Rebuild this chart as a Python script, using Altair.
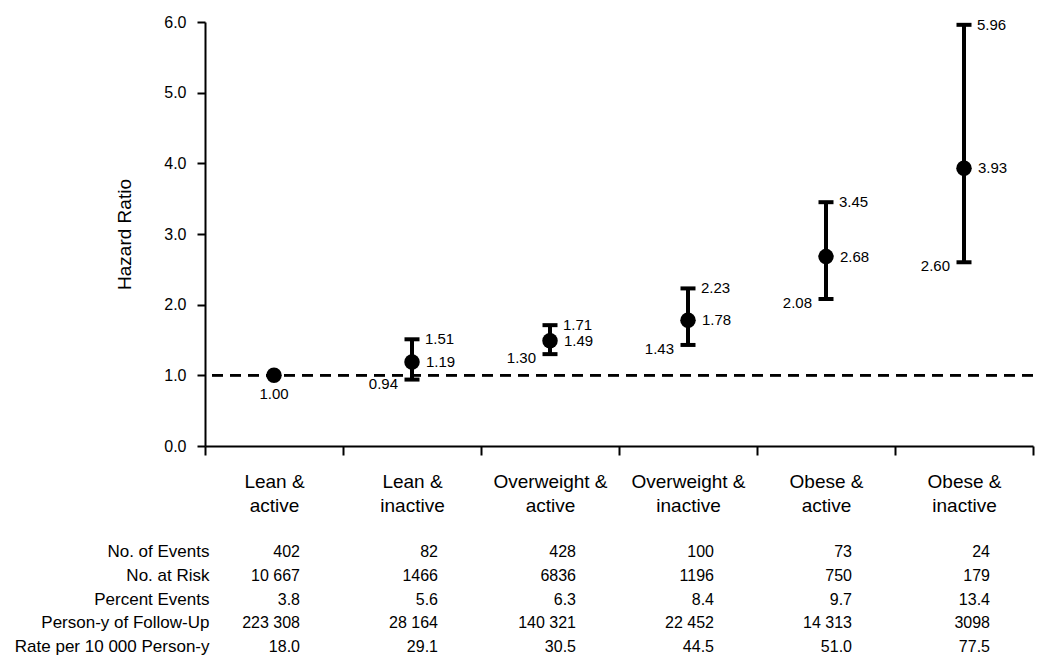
import altair as alt
import pandas as pd

categories = ["Lean & active", "Lean & inactive", "Overweight & active",
              "Overweight & inactive", "Obese & active", "Obese & inactive"]
hazard_ratio = [1.00, 1.19, 1.49, 1.78, 2.68, 3.93]
ci_lower = [None, 0.94, 1.30, 1.43, 2.08, 2.60]
ci_upper = [None, 1.51, 1.71, 2.23, 3.45, 5.96]

row_names = ["No. of Events", "No. at Risk", "Percent Events",
             "Person-y of Follow-Up", "Rate per 10 000 Person-y"]
events = ["402", "82", "428", "100", "73", "24"]
at_risk = ["10 667", "1466", "6836", "1196", "750", "179"]
pct_events = ["3.8", "5.6", "6.3", "8.4", "9.7", "13.4"]
person_years = ["223 308", "28 164", "140 321", "22 452", "14 313", "3098"]
rate = ["18.0", "29.1", "30.5", "44.5", "51.0", "77.5"]

FONT = "Liberation Sans"

df = pd.DataFrame({"cat": categories, "hr": hazard_ratio,
                   "lo": ci_lower, "hi": ci_upper})

table_rows = [events, at_risk, pct_events, person_years, rate]
tdf = pd.DataFrame([
    {"cat": c, "row": r, "val": vals[i]}
    for r, vals in zip(row_names, table_rows)
    for i, c in enumerate(categories)
])

W, H = 828, 424

xscale = alt.Scale(type="band", domain=categories, paddingInner=0, paddingOuter=0)
x_top = alt.X("cat:N", sort=categories, scale=xscale,
              axis=alt.Axis(title=None, labelAngle=0, tickBand="extent",
                            domainWidth=2, domainColor="black",
                            tickWidth=2, tickSize=9, tickColor="black",
                            labelPadding=17, labelFontSize=19, labelColor="black",
                            labelLineHeight=24, labelFont=FONT,
                            labelExpr="datum.label ? [split(datum.label, ' & ')[0] + ' &', split(datum.label, ' & ')[1]] : ''"))
yscale = alt.Scale(domain=[0, 6], nice=False, zero=True)
y_axis = alt.Axis(title="Hazard Ratio", values=[0, 1, 2, 3, 4, 5, 6], format=".1f",
                  tickSize=8, tickWidth=2, tickColor="black",
                  domainWidth=2, domainColor="black", grid=False,
                  labelFontSize=16, labelColor="black", labelFont=FONT, labelPadding=11,
                  titleFontSize=19, titleFontWeight="normal", titleColor="black",
                  titleFont=FONT, titlePadding=29)

base = alt.Chart(df).encode(x=x_top)
ci = base.transform_filter("isValid(datum.lo)")

ref_line = alt.Chart(df).mark_rule(color="black", strokeWidth=2, strokeDash=[11, 7]).encode(
    y=alt.datum(1, scale=yscale, axis=y_axis))
bars = ci.mark_rule(color="black", strokeWidth=4).encode(
    y=alt.Y("lo:Q", scale=yscale, axis=y_axis), y2="hi:Q")
cap_lo = ci.mark_tick(color="black", thickness=4, size=15, opacity=1).encode(y=alt.Y("lo:Q", scale=yscale))
cap_hi = ci.mark_tick(color="black", thickness=4, size=15, opacity=1).encode(y=alt.Y("hi:Q", scale=yscale))
pts = base.mark_circle(color="black", size=240, opacity=1).encode(y=alt.Y("hr:Q", scale=yscale, axis=y_axis))

lbl_hi = ci.mark_text(align="left", baseline="middle", dx=13, fontSize=15, font=FONT, color="black").encode(
    y=alt.Y("hi:Q", scale=yscale), text=alt.Text("hi:Q", format=".2f"))
lbl_mid = ci.mark_text(align="left", baseline="middle", dx=14, fontSize=15, font=FONT, color="black").encode(
    y=alt.Y("hr:Q", scale=yscale), text=alt.Text("hr:Q", format=".2f"))
lbl_lo = ci.mark_text(align="right", baseline="middle", dx=-14, dy=4, fontSize=15, font=FONT, color="black").encode(
    y=alt.Y("lo:Q", scale=yscale), text=alt.Text("lo:Q", format=".2f"))
lbl_ref = base.transform_filter("!isValid(datum.lo)").mark_text(
    align="center", baseline="middle", dy=19, fontSize=15, font=FONT, color="black").encode(
    y=alt.Y("hr:Q", scale=yscale), text=alt.Text("hr:Q", format=".2f"))

top = alt.layer(ref_line, bars, cap_lo, cap_hi, pts, lbl_hi, lbl_mid, lbl_lo, lbl_ref).properties(
    width=W, height=H)

table = alt.Chart(tdf).mark_text(align="right", baseline="middle", dx=26, fontSize=16,
                                  font=FONT, color="black").encode(
    x=alt.X("cat:N", sort=categories,
            scale=alt.Scale(type="band", domain=categories, paddingInner=0, paddingOuter=0),
            axis=None),
    y=alt.Y("row:N", sort=row_names,
            scale=alt.Scale(type="band", domain=row_names, paddingInner=0, paddingOuter=0),
            axis=alt.Axis(title=None, domain=False, ticks=False, labelPadding=-4,
                          labelLimit=400, labelFontSize=17, labelColor="black", labelFont=FONT)),
    text="val:N",
).properties(width=W, height=119)

chart = alt.vconcat(top, table, spacing=25).properties(
    padding={"left": 6, "top": 6, "right": 5, "bottom": 5}
).configure(font=FONT).configure_view(stroke=None)

chart.save("out.html", embed_options={"renderer": "svg", "actions": False})
